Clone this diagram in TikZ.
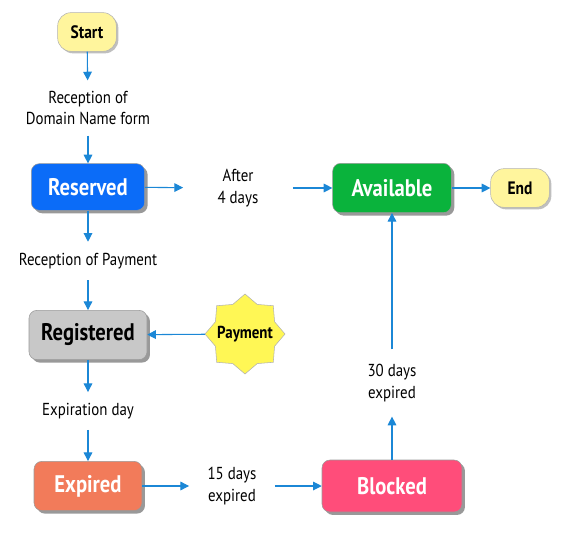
\documentclass[tikz,border=0pt]{standalone}
\usepackage{fontspec}
\setmainfont{PT Sans}[FakeStretch=0.86]
\usetikzlibrary{shapes.geometric,arrows.meta,positioning,shadows}
\definecolor{TermYellow}{HTML}{FFF59D}
\definecolor{StarYellow}{HTML}{FFF755}
\definecolor{ReservedBlue}{HTML}{0B6CF8}
\definecolor{AvailGreen}{HTML}{0AB33C}
\definecolor{RegGrey}{HTML}{C8C8C8}
\definecolor{ExpOrange}{HTML}{F27B5A}
\definecolor{BlockPink}{HTML}{FF4D7A}
\definecolor{FlowBlue}{HTML}{1B87D6}
\begin{document}
\begin{tikzpicture}[x=0.75pt,y=-0.75pt,
  every node/.style={font=\fontsize{13}{16}\selectfont},
  state/.style={draw=black!40, rounded corners=6pt, minimum height=37pt,
    font=\fontsize{18}{20}\selectfont\bfseries, text=white,
    drop shadow={shadow xshift=2.2pt, shadow yshift=-2.2pt, fill=black!40, opacity=1}},
  terminal/.style={draw=black!30, fill=TermYellow, rounded corners=10pt,
    minimum width=44pt, minimum height=29pt,
    font=\fontsize{13.5}{16}\selectfont\bfseries,
    drop shadow={shadow xshift=1.5pt, shadow yshift=-1.5pt, fill=black!25, opacity=1}},
  cond/.style={align=center, inner sep=0pt},
  flow/.style={draw=FlowBlue, line width=0.8pt, -{Triangle[length=6.5pt,width=6.5pt]}}]
  \useasboundingbox (0,0) rectangle (567,535);

  \node[terminal] (start) at (87,32) {Start};
  \node[cond,minimum height=41pt] (lblForm) at (88,108) {Reception of\\Domain Name form};
  \node[state,fill=ReservedBlue,minimum width=85pt,minimum height=35pt] (reserved) at (88,187) {Reserved};
  \node[cond,minimum width=82pt] (lblAfter) at (238,188) {After\\4 days};
  \node[state,fill=AvailGreen,minimum width=89pt] (available) at (392,188) {Available};
  \node[terminal] (end) at (520,188) {End};
  \node[cond,minimum height=28.5pt] (lblPay) at (88,261) {Reception of Payment};
  \node[state,fill=RegGrey,text=black,minimum width=88.5pt] (registered) at (88,335) {Registered};
  \node[star,star points=8,star point ratio=1.25,draw=black!30,fill=StarYellow,
    minimum size=60pt,inner sep=0pt,font=\fontsize{13}{15}\selectfont\bfseries] (payment) at (245,334) {\makebox[0pt]{Payment}};
  \node[cond,minimum height=28pt] (lblExp) at (88,411) {Expiration day};
  \node[state,fill=ExpOrange,minimum width=81pt] (expired) at (88,486) {Expired};
  \node[cond,minimum width=64pt] (lbl15) at (232,486) {15 days\\expired};
  \node[state,fill=BlockPink,minimum width=105pt,minimum height=39pt] (blocked) at (392,486) {Blocked};
  \node[cond,minimum height=50pt] (lbl30) at (392,383) {30 days\\expired};

  \draw[flow] (start) -- (lblForm);
  \draw[flow] (lblForm) -- (reserved);
  \draw[flow] (reserved) -- (lblAfter);
  \draw[flow] (lblAfter) -- (available);
  \draw[flow] (available) -- (end);
  \draw[flow] (reserved) -- (lblPay);
  \draw[flow] (lblPay) -- (registered);
  \draw[flow] (payment) -- (registered);
  \draw[flow] (registered) -- (lblExp);
  \draw[flow] (lblExp) -- (expired);
  \draw[flow] (expired) -- (lbl15);
  \draw[flow] (lbl15) -- (blocked);
  \draw[flow] (blocked) -- (lbl30);
  \draw[flow] (lbl30) -- (available);
\end{tikzpicture}
\end{document}
